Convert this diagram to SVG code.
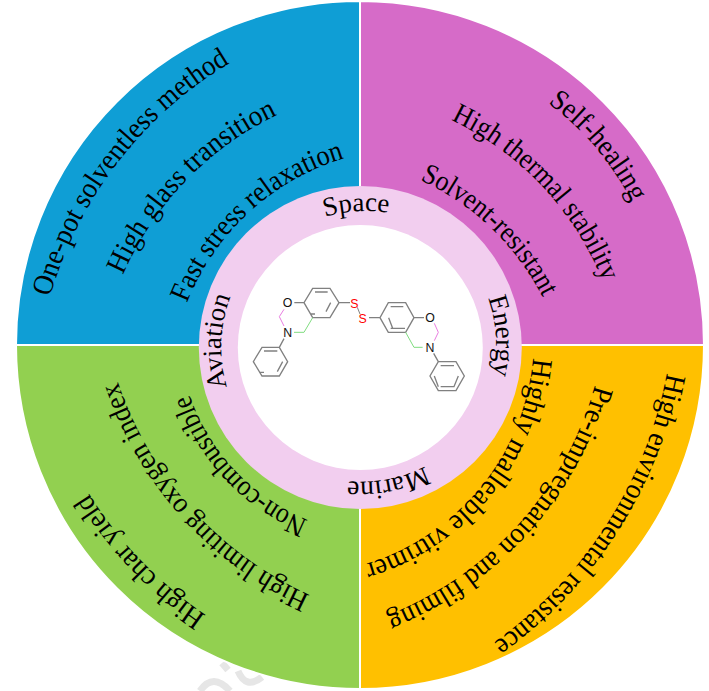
<svg xmlns="http://www.w3.org/2000/svg" width="709" height="691" viewBox="0 0 709 691">
<style>
.l{font-family:"Liberation Serif","Times New Roman",serif;font-size:29px;fill:#000}
.r{font-family:"Liberation Serif","Times New Roman",serif;font-size:27px;fill:#000}
.b{fill:none;stroke:#808080;stroke-width:4}
.p{fill:none;stroke:#e87ce0;stroke-width:3}
.g{fill:none;stroke:#7fdc7f;stroke-width:3}
.a{font-family:"Liberation Sans",Arial,sans-serif;font-size:37px;text-anchor:middle}
.q{stroke:#fff;stroke-width:2}
</style>
<defs>
<path id="p1" d="M50,297A400,400 0 0 1 230,63l25,-15"/>
<path id="p2" d="M123,275A318,318 0 0 1 277,115l25,-10"/>
<path id="p3" d="M187,303A245,245 0 0 1 345,158l25,-4"/>
<path id="p4" d="M548,103A280,280 0 0 1 627,193l10,20"/>
<path id="p5" d="M451,120A303,303 0 0 1 603,282l6,25"/>
<path id="p6" d="M420,180A258,258 0 0 1 543,298l6,25"/>
<path id="p7" d="M667,373A430,430 0 0 1 493,643l-25,10"/>
<path id="p8" d="M595,385A349,349 0 0 1 393,613l-25,8"/>
<path id="p9" d="M533,358A236,236 0 0 1 368,563l-25,4"/>
<path id="p10" d="M206,615A400,400 0 0 1 88,492l-14,-20"/>
<path id="p11" d="M310,595A358,358 0 0 1 118,382l-8,-25"/>
<path id="p12" d="M308,520A206,206 0 0 1 188,390l-6,-25"/>
<path id="s1" d="M325,217A135,135 0 0 1 388,213l20,4"/>
<path id="s2" d="M488,298A136,136 0 0 1 493,373l-4,20"/>
<path id="s3" d="M425,466A137,137 0 0 1 347,481l-20,-2"/>
<path id="s4" d="M227,387A140,140 0 0 1 230,298l6,-20"/>
</defs>
<rect width="709" height="691" fill="#fff"/>
<g id="watermark" fill="none" stroke="#e6e6e6" stroke-width="7"><path d="M200,691Q213,672 230,691"/><path d="M238,671Q246,690 262,677"/><path d="M222,663L228,670"/></g>
<g id="sectors">
<path id="blue" class="q" fill="#0F9ED5" d="M360,345V1A344,344 0 0 0 16,345Z"/>
<path id="pink" class="q" fill="#D66BC8" d="M360,345V1A344,344 0 0 1 704,345Z"/>
<path id="orange" class="q" fill="#FFC000" d="M360,345H704A344,344 0 0 1 360,689Z"/>
<path id="green" class="q" fill="#92D050" d="M360,345H16A344,344 0 0 0 360,689Z"/>
</g>
<g id="ring">
<circle cx="360.3" cy="347.5" r="161.5" fill="#F2CEEF"/>
<circle cx="360.3" cy="347.5" r="122.5" fill="#fff"/>
</g>
<g id="features">
<text class="l"><textPath href="#p1" textLength="302" lengthAdjust="spacingAndGlyphs">One-pot solventless method</textPath></text>
<text class="l"><textPath href="#p2" textLength="227" lengthAdjust="spacingAndGlyphs">High glass transition</textPath></text>
<text class="l"><textPath href="#p3" textLength="221" lengthAdjust="spacingAndGlyphs">Fast stress relaxation</textPath></text>
<text class="l"><textPath href="#p4" textLength="131" lengthAdjust="spacingAndGlyphs">Self-healing</textPath></text>
<text class="l"><textPath href="#p5" textLength="227" lengthAdjust="spacingAndGlyphs">High thermal stability</textPath></text>
<text class="l"><textPath href="#p6" textLength="173" lengthAdjust="spacingAndGlyphs">Solvent-resistant</textPath></text>
<text class="l"><textPath href="#p7" textLength="329" lengthAdjust="spacingAndGlyphs">High environmental resistance</textPath></text>
<text class="l"><textPath href="#p8" textLength="322" lengthAdjust="spacingAndGlyphs">Pre-impregnation and filming</textPath></text>
<text class="l"><textPath href="#p9" textLength="283" lengthAdjust="spacingAndGlyphs">Highly malleable vitrimer</textPath></text>
<text class="l"><textPath href="#p10" textLength="170" lengthAdjust="spacingAndGlyphs">High char yield</textPath></text>
<text class="l"><textPath href="#p11" textLength="295" lengthAdjust="spacingAndGlyphs">High limiting oxygen index</textPath></text>
<text class="l"><textPath href="#p12" textLength="178" lengthAdjust="spacingAndGlyphs">Non-combustible</textPath></text>
</g>
<g id="applications">
<text class="r"><textPath href="#s1" textLength="64" lengthAdjust="spacingAndGlyphs">Space</textPath></text>
<text class="r"><textPath href="#s2" textLength="78" lengthAdjust="spacingAndGlyphs">Energy</textPath></text>
<text class="r"><textPath href="#s3" textLength="80" lengthAdjust="spacingAndGlyphs">Marine</textPath></text>
<text class="r"><textPath href="#s4" textLength="92" lengthAdjust="spacingAndGlyphs">Aviation</textPath></text>
</g>
<g id="molecule" transform="translate(240 270) scale(.3333)">
<path class="b" d="M218,55H270L297,98L270,143H218L192,98ZM225,66H263M272,98L258,125M225,132H212M192,98H163M297,98H330M118,232L143,275L118,318H66L40,275L66,232ZM72,243H112M128,275L112,305M72,307H60M132,206L118,232"/>
<path class="b" d="M445,98H497L522,143L497,187H445L420,143ZM452,110H490M446,143L458,175M495,175H452M522,143H552M420,143H387M595,275H648L673,318L648,362H595L570,318ZM602,287H642M655,318L642,350H602M583,318L595,350M581,250L595,275"/>
<path class="p" d="M132,118L118,140L132,168"/>
<path class="p" d="M583,160L595,187L583,212"/>
<path class="g" d="M162,187H192L218,143"/>
<path class="g" d="M548,232H522L497,187"/>
<path d="M352,112L360,132" fill="none" stroke="#808080" stroke-width="3"/>
<text class="a" x="143" y="111" fill="#111">O</text>
<text class="a" x="143" y="201" fill="#111">N</text>
<text class="a" x="570" y="156" fill="#111">O</text>
<text class="a" x="570" y="246" fill="#111">N</text>
<text class="a" x="343" y="113" fill="#f00">S</text>
<text class="a" x="368" y="160" fill="#f00">S</text>
</g>
</svg>
